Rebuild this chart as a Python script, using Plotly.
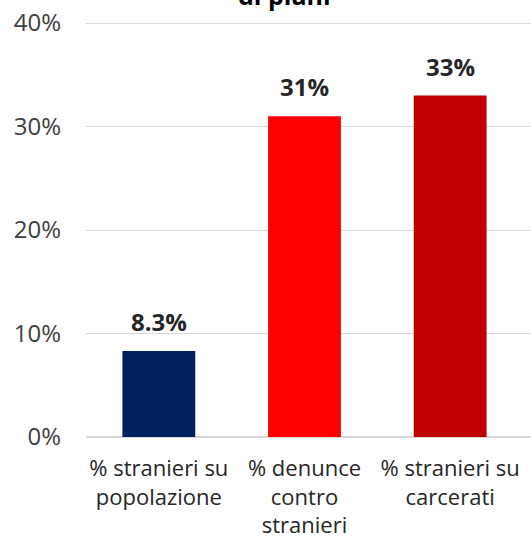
import plotly.graph_objects as go

categories = ["% stranieri su<br>popolazione", "% denunce<br>contro<br>stranieri", "% stranieri su<br>carcerati"]
values = [0.083, 0.31, 0.33]
value_labels = ["8.3%", "31%", "33%"]
bar_colors = ["#002060", "#FF0000", "#C00000"]

FONT = "Open Sans"

fig = go.Figure()
fig.add_trace(go.Bar(
    x=categories,
    y=values,
    marker=dict(color=bar_colors, line=dict(width=0)),
    hoverinfo="x+y",
))

# data labels sit a little higher above the bars than plotly's outside text
for cat, val, lbl in zip(categories, values, value_labels):
    fig.add_annotation(
        x=cat, y=val, text=lbl,
        xref="x", yref="y",
        yanchor="bottom", yshift=11,
        showarrow=False,
        font=dict(family=FONT, size=24, color="#262626", weight="bold"),
    )

# title is cut off at the top in the source image, only its last line peeks in
fig.add_annotation(
    text="di piani",
    xref="paper", yref="paper",
    x=0.446, y=1.063,
    xanchor="center", yanchor="middle",
    showarrow=False,
    font=dict(family=FONT, size=25, color="#000000", weight="bold"),
)

fig.update_layout(
    width=531,
    height=551,
    margin=dict(l=86, r=0, t=21, b=114),
    paper_bgcolor="white",
    plot_bgcolor="white",
    bargap=0.5,
    showlegend=False,
    font=dict(family=FONT, size=16, color="#404040"),
)
fig.update_yaxes(
    range=[0, 0.402],
    dtick=0.10,
    tickformat=".0%",
    showgrid=True,
    gridcolor="#D9D9D9",
    gridwidth=1,
    zeroline=True,
    zerolinecolor="#D9D9D9",
    showline=False,
    ticks="",
    automargin=False,
    ticklabelstandoff=24,
    tickfont=dict(family=FONT, size=24, color="#404040"),
)
fig.update_xaxes(
    range=[-0.5, 2.555],
    showline=False,
    ticks="",
    showgrid=False,
    automargin=False,
    ticklabelstandoff=16,
    tickfont=dict(family=FONT, size=22, color="#262626"),
)

# drop the default page margin so the chart starts at the window corner
fig.write_html(
    "out.html",
    config={"displayModeBar": False},
    post_script="document.body.style.margin = '0';",
)
